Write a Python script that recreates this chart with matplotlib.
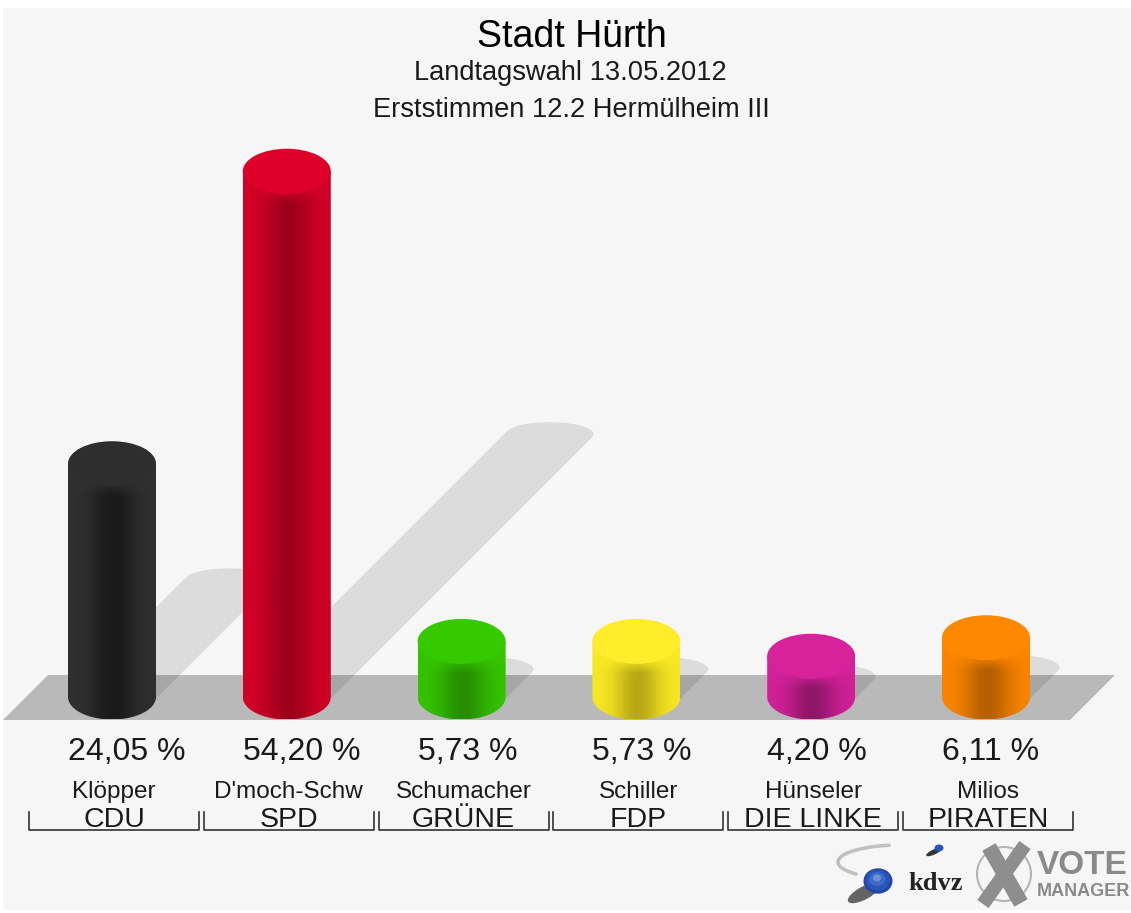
import numpy as np
import matplotlib
matplotlib.use('Agg')
import matplotlib.pyplot as plt
from matplotlib.colors import to_rgb
from matplotlib.patches import Ellipse, PathPatch, Polygon, Rectangle
from matplotlib.path import Path

plt.rcParams['font.family'] = ['Liberation Sans', 'DejaVu Sans']

title = 'Stadt Hürth'
subtitle1 = 'Landtagswahl 13.05.2012'
subtitle2 = 'Erststimmen 12.2 Hermülheim III'

parties = ['CDU', 'SPD', 'GRÜNE', 'FDP', 'DIE LINKE', 'PIRATEN']
names = ['Klöpper', "D'moch-Schw", 'Schumacher', 'Schiller', 'Hünseler', 'Milios']
values = [24.05, 54.20, 5.73, 5.73, 4.20, 6.11]
labels = ['24,05 %', '54,20 %', '5,73 %', '5,73 %', '4,20 %', '6,11 %']

top_cols = ['#2e2e2e', '#de0029', '#35c900', '#ffec2a', '#d8229c', '#ff8800']
edge_cols = ['#303030', '#d20027', '#35c400', '#f9e924', '#d2219a', '#fb8500']
dark_cols = ['#1a1a1a', '#9c001b', '#268e00', '#b8a814', '#8f1668', '#b56000']

W, H = 1131, 913
PX_X = 174.8    # pixels per bar slot
PX_Y = 9.7      # pixels per percent
X0, Y0 = 112, 697   # first bar centre, zero line
RX, RY = 44, 22.5   # cylinder ellipse in pixels

fig = plt.figure(figsize=(W/100, H/100), dpi=100, facecolor='white')

# background axes in pixels, for everything that is not a bar
bg = fig.add_axes([0, 0, 1, 1])
bg.set_xlim(0, W)
bg.set_ylim(H, 0)
bg.axis('off')
bg.add_patch(Rectangle((3, 8), W-3, 902, fc='#f6f6f6', ec='none'))
bg.add_patch(Polygon([(3, 720), (48, 675), (1115, 675), (1070, 720)], fc='#b9b9b9', ec='none'))

# data axes: x is the bar number, y is percent
ax = fig.add_axes([0, 0, 1, 1])
ax.patch.set_alpha(0)
ax.axis('off')
xlim = (-X0/PX_X, (W-X0)/PX_X)
ylim = ((Y0-H)/PX_Y, Y0/PX_Y)
rx = RX/PX_X
ry = RY/PX_Y


def draw_shadow(i, v):
    # swept ellipse leaning up to the right, half as long as the bar
    a, b = rx, 12/PX_Y
    sh = v*0.5
    t0 = np.arctan2(-12, RX)
    t_tip = np.linspace(t0, t0+np.pi, 40)
    t_base = np.linspace(t0+np.pi, t0+2*np.pi, 40)
    xs = np.r_[i + sh*PX_Y/PX_X + a*np.cos(t_tip), i + a*np.cos(t_base)]
    ys = np.r_[sh + b*np.sin(t_tip), b*np.sin(t_base)]
    ax.add_patch(Polygon(np.c_[xs, ys], fc='black', alpha=0.10, ec='none', zorder=1))


def draw_bar(i, v, c_top, c_edge, c_dark):
    ny = max(int(v*PX_Y + RY*2), 4)
    nx = 88
    u = np.linspace(-1, 1, nx)
    shade = np.exp(-((u-0.04)/0.52)**2)
    # the dark band only starts under the front of the top face
    rows = np.linspace(0, 1, ny)*(v*PX_Y + RY)
    fade = np.clip((rows - RY*0.75)/16, 0, 1)
    amount = fade[:, None]*shade[None, :]
    e, d = np.array(to_rgb(c_edge)), np.array(to_rgb(c_dark))
    img = e[None, None, :] + amount[:, :, None]*(d-e)[None, None, :]
    im = ax.imshow(img, extent=(i-rx, i+rx, -ry, v), origin='upper', aspect='auto',
                   interpolation='bilinear', zorder=3)
    t = np.linspace(np.pi, 2*np.pi, 40)
    verts = [(i-rx, v), (i+rx, v)] + list(zip(i + rx*np.cos(t[::-1]), ry*np.sin(t[::-1]))) + [(i-rx, v)]
    clip = PathPatch(Path(verts), transform=ax.transData, fc='none', ec='none')
    ax.add_patch(clip)
    im.set_clip_path(clip)
    ax.add_patch(Ellipse((i, v), 2*rx, 2*ry, fc=c_top, ec='none', zorder=4))


for i, v in enumerate(values):
    draw_shadow(i, v)
for i, v in enumerate(values):
    draw_bar(i, v, top_cols[i], edge_cols[i], dark_cols[i])
ax.set_xlim(*xlim)
ax.set_ylim(*ylim)

# texts
txt = '#1a1a1a'
bg.text(572, 37, title, ha='center', va='center', fontsize=27, color='black')
bg.text(570, 73, subtitle1, ha='center', va='center', fontsize=19.6, color=txt)
bg.text(571, 110, subtitle2, ha='center', va='center', fontsize=19.6, color=txt)

for i in range(len(parties)):
    left = X0 + i*PX_X - RX
    ctr = X0 + i*PX_X + 2
    ax.text(left/PX_X - X0/PX_X, (Y0-752)/PX_Y, labels[i], ha='left', va='center',
            fontsize=23, color=txt, zorder=6)
    ax.text(ctr/PX_X - X0/PX_X, (Y0-792)/PX_Y, names[i], ha='center', va='center',
            fontsize=17.5, color=txt, zorder=6)
    ax.text(ctr/PX_X - X0/PX_X, (Y0-820)/PX_Y, parties[i], ha='center', va='center',
            fontsize=20.5, color=txt, zorder=6)
    # bracket under each slot
    bl = 29 + i*174.8
    bg.plot([bl, bl, bl+170, bl+170], [812, 830, 830, 812], color='#333333', lw=1.2)

# logos
t = np.linspace(np.radians(100), np.radians(225), 40)
bg.plot(900 + 62*np.cos(t), 862 - 17*np.sin(t), color='#c0c0c0', lw=2.5, solid_capstyle='round')
bg.add_patch(Ellipse((864, 893), 36, 13, angle=-28, fc='#333333', ec='none', alpha=0.75))
for r, c in zip([14.5, 12, 8, 4], ['#1f46a8', '#2a55b8', '#3d6cc6', '#6f90d8']):
    bg.add_patch(Ellipse((878-(14.5-r)*0.1, 881-(14.5-r)*0.3), 2*r, 1.75*r, fc=c, ec='none'))
bg.add_patch(Ellipse((934, 852), 17, 5, angle=-25, fc='#333333', ec='none'))
bg.add_patch(Ellipse((939, 848), 9, 7, fc='#2a55b8', ec='none'))
bg.text(936, 884, 'kdvz', ha='center', va='center', fontsize=19, family='Liberation Serif',
        weight='bold', color='#222222')
bg.add_patch(Ellipse((1004, 874), 54, 54, fc='none', ec='#b5b5b5', lw=1.5))
bg.plot([989, 1021], [847, 903], color='#8e8e8e', lw=11, solid_capstyle='butt')
bg.plot([1025, 983], [845, 904], color='#8e8e8e', lw=10, solid_capstyle='butt')
bg.text(1037, 866, 'VOTE', ha='left', va='center', fontsize=24, weight='bold', color='#8a8a8a')
bg.text(1037, 892, 'MANAGER', ha='left', va='center', fontsize=13, weight='bold', color='#8a8a8a')

fig.savefig('out.png', dpi=100, facecolor=fig.get_facecolor())
